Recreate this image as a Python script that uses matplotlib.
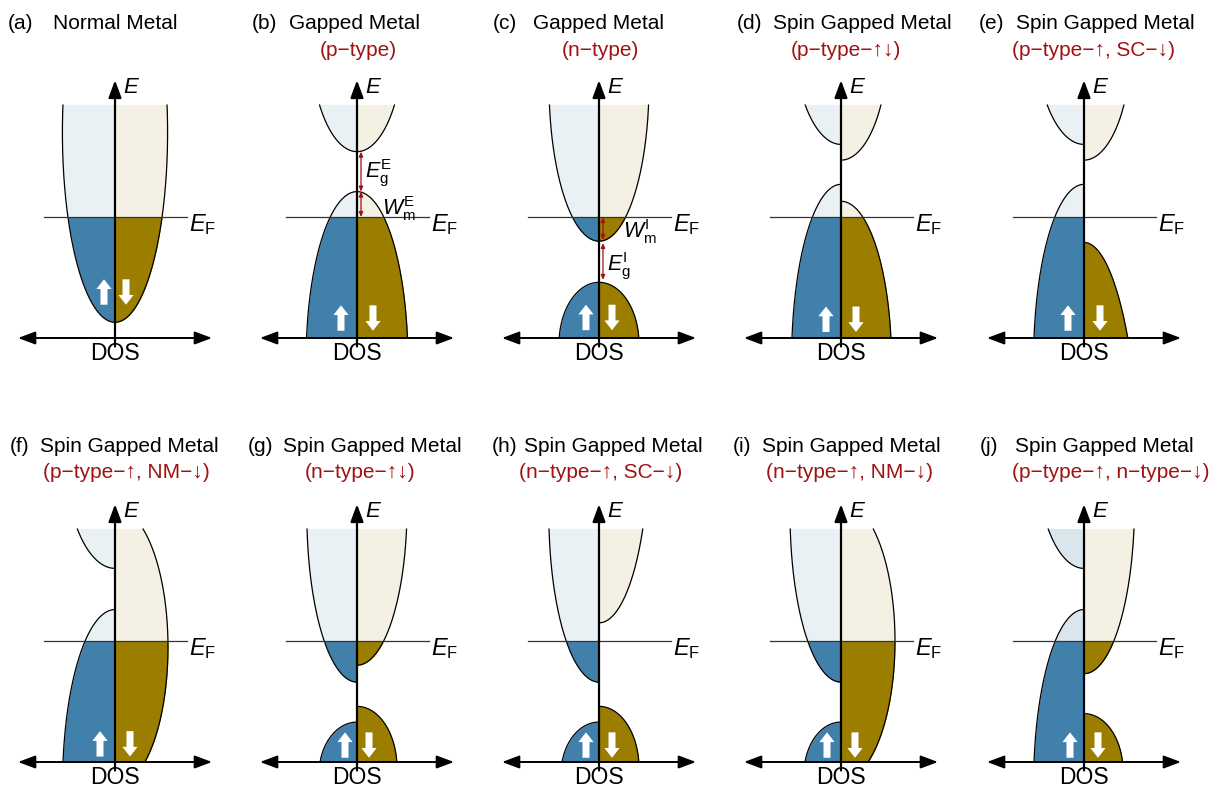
import numpy as np
import matplotlib
matplotlib.use("Agg")
import matplotlib.pyplot as plt

plt.rcParams['font.family'] = ['Liberation Sans', 'DejaVu Sans']
plt.rcParams['mathtext.fontset'] = 'custom'
plt.rcParams['mathtext.rm'] = 'Liberation Sans'
plt.rcParams['mathtext.it'] = 'Liberation Sans:italic'
plt.rcParams['mathtext.bf'] = 'Liberation Sans:bold'

# ------------------------------------------------------------------ data
panel_labels = ['(a)', '(b)', '(c)', '(d)', '(e)', '(f)', '(g)', '(h)', '(i)', '(j)']
titles = ['Normal Metal', 'Gapped Metal', 'Gapped Metal', 'Spin Gapped Metal',
          'Spin Gapped Metal', 'Spin Gapped Metal', 'Spin Gapped Metal',
          'Spin Gapped Metal', 'Spin Gapped Metal', 'Spin Gapped Metal']
subtitles = ['', '(p\u2212type)', '(n\u2212type)', '(p\u2212type\u2212\u2191\u2193)',
             '(p\u2212type\u2212\u2191, SC\u2212\u2193)', '(p\u2212type\u2212\u2191, NM\u2212\u2193)',
             '(n\u2212type\u2212\u2191\u2193)', '(n\u2212type\u2212\u2191, SC\u2212\u2193)',
             '(n\u2212type\u2212\u2191, NM\u2212\u2193)', '(p\u2212type\u2212\u2191, n\u2212type\u2212\u2193)']

E_F = 1.0      # Fermi level (energy units)
E_TOP = 1.93   # top of the drawn energy window

# each band: semi-elliptic DOS lobe (E_low, E_high, max half-width)
bands_up = [
    [(0.13, 3.27, 52.6)],
    [(-1.61, 1.21, 51.0), (1.54, 3.54, 47.5)],
    [(-0.56, 0.46, 40.0), (0.80, 3.40, 50.0)],
    [(-1.67, 1.27, 49.5), (1.60, 3.60, 48.5)],
    [(-1.67, 1.27, 50.5), (1.60, 3.60, 49.8)],
    [(-1.66, 1.26, 52.5), (1.60, 3.60, 51.0)],
    [(-0.53, 0.33, 38.0), (0.66, 3.46, 50.2)],
    [(-0.53, 0.33, 38.0), (0.66, 3.46, 50.2)],
    [(-0.53, 0.33, 37.0), (0.66, 3.46, 51.0)],
    [(-1.66, 1.26, 50.5), (1.60, 3.60, 48.5)],
]
bands_dn = [
    [(0.13, 3.27, 52.6)],
    [(-1.61, 1.21, 51.0), (1.54, 3.54, 47.5)],
    [(-0.56, 0.46, 40.0), (0.80, 3.40, 50.0)],
    [(-1.53, 1.13, 50.5), (1.47, 3.47, 47.6)],
    [(-3.79, 0.79, 58.0), (1.47, 3.47, 47.6)],
    [(-0.20, 2.10, 53.0)],
    [(-0.56, 0.46, 40.0), (0.80, 3.40, 50.0)],
    [(-0.56, 0.46, 40.0), (1.15, 4.15, 50.0)],
    [(-0.155, 2.155, 54.0)],
    [(-0.55, 0.40, 39.0), (0.73, 3.53, 50.5)],
]

# gap / width annotations: (panel, E_from, E_to, label, label_E, label_x)
annotations = [
    (1, 1.54, 1.21, r'$E_\mathrm{g}^\mathrm{E}$', 1.36, 8),
    (1, 1.21, 1.00, r'$W_\mathrm{m}^\mathrm{E}$', 1.07, 25),
    (2, 1.00, 0.81, r'$W_\mathrm{m}^\mathrm{I}$', 0.88, 24),
    (2, 0.785, 0.48, r'$E_\mathrm{g}^\mathrm{I}$', 0.59, 8),
]

# ------------------------------------------------------------------ layout / style
FIG_W, FIG_H = 1214, 788
PX_PER_E = 121.0
centers = [115, 357, 599, 841, 1084]
row_base = [338, 762]
label_x = [8, 252, 493, 737, 979, 10, 248, 492, 733, 980]
title_x = [53, 289, 533, 773, 1016, 40, 283, 524, 762, 1015]
sub_cx = [None, 358, 600, 846, 1094, 126, 360, 601, 850, 1111]
title_base = [29, 452]
sub_base = [56, 478]
arrow_E = [0.38, 0.165, 0.17, 0.155, 0.165, 0.15, 0.14, 0.14, 0.14, 0.14]
arrow_dx = [11, 16, 13, 15, 16, 15, 12, 13, 14, 14]

C_UP_DARK = '#4180ab'
C_DN_DARK, C_DN_LIGHT = '#9b7e00', '#f4f1e4'
up_light = ['#e9f1f5'] * 9 + ['#d9e6ee']
RED = '#a01212'
E_MIN, E_MAX = -0.2, 2.35

fig = plt.figure(figsize=(FIG_W / 100, FIG_H / 100), dpi=100)


def lobe(E, lo, hi, W):
    c = 0.5 * (lo + hi)
    H = 0.5 * (hi - lo)
    return W * np.sqrt(np.clip(1 - ((E - c) / H) ** 2, 0, None))


for i in range(10):
    row, col = divmod(i, 5)
    cx, y0 = centers[col], row_base[row]
    left = (cx - 121) / FIG_W
    bottom = 1 - (y0 - E_MIN * PX_PER_E) / FIG_H
    height = (E_MAX - E_MIN) * PX_PER_E / FIG_H
    ax = fig.add_axes([left, bottom, 242 / FIG_W, height])
    ax.set_xlim(-121, 121)
    ax.set_ylim(E_MIN, E_MAX)
    ax.axis('off')

    for sign, bands, dark, light in [(-1, bands_up[i], C_UP_DARK, up_light[i]),
                                     (1, bands_dn[i], C_DN_DARK, C_DN_LIGHT)]:
        for lo, hi, W in bands:
            e0, e1 = max(lo, 0.0), min(hi, E_TOP)
            if e0 < E_F:
                Eo = np.linspace(e0, min(e1, E_F), 600)
                ax.fill_betweenx(Eo, 0, sign * lobe(Eo, lo, hi, W), color=dark, lw=0)
            if e1 > E_F:
                Ee = np.linspace(max(e0, E_F), e1, 600)
                ax.fill_betweenx(Ee, 0, sign * lobe(Ee, lo, hi, W), color=light, lw=0)
            Ea = np.linspace(e0, e1, 1500)
            ax.plot(sign * lobe(Ea, lo, hi, W), Ea, color='k', lw=0.9, solid_capstyle='butt')

    # Fermi level
    ax.plot([-71, 72], [E_F, E_F], color='#333333', lw=0.9)
    ax.text(74, 0.885, r'$E_\mathrm{F}$', fontsize=17, va='baseline', ha='left')

    # spin arrows
    for sgn, direction in [(-1, 1), (1, -1)]:
        xa = sgn * arrow_dx[i]
        ax.annotate('', xy=(xa, arrow_E[i] + direction * 0.105),
                    xytext=(xa, arrow_E[i] - direction * 0.105),
                    arrowprops=dict(arrowstyle='simple,head_length=0.5,head_width=0.78,tail_width=0.36',
                                    fc='white', ec='none', shrinkA=0, shrinkB=0,
                                    mutation_scale=14))

    # axes
    ax.annotate('', xy=(0, 2.13), xytext=(0, -0.07),
                arrowprops=dict(arrowstyle='-|>,head_length=0.75,head_width=0.28',
                                color='k', lw=1.6, shrinkA=0, shrinkB=0, mutation_scale=14))
    ax.annotate('', xy=(97, 0), xytext=(-97, 0),
                arrowprops=dict(arrowstyle='<|-|>,head_length=0.75,head_width=0.28',
                                color='k', lw=1.4, shrinkA=0, shrinkB=0, mutation_scale=14))
    ax.text(8, 2.025, r'$E$', fontsize=16, va='baseline', ha='left')
    ax.text(0, -0.125, 'DOS', fontsize=16.5, ha='center', va='center')

    # gap annotations
    for (p, ea, eb, lab, le, lx) in annotations:
        if p != i:
            continue
        ax.annotate('', xy=(4, eb), xytext=(4, ea),
                    arrowprops=dict(arrowstyle='<|-|>,head_length=0.35,head_width=0.15',
                                    color=RED, lw=0.9, shrinkA=0, shrinkB=0, mutation_scale=8))
        ax.text(lx, le, lab, fontsize=15.5, ha='left', va='center')

    # titles
    fig.text(label_x[i] / FIG_W, 1 - title_base[row] / FIG_H, panel_labels[i],
             fontsize=15, ha='left', va='baseline')
    fig.text(title_x[i] / FIG_W, 1 - title_base[row] / FIG_H, titles[i],
             fontsize=15, ha='left', va='baseline')
    if subtitles[i]:
        fig.text(sub_cx[i] / FIG_W, 1 - sub_base[row] / FIG_H, subtitles[i],
                 fontsize=15, ha='center', va='baseline', color=RED)

fig.savefig('out.png', dpi=100, facecolor='white')
